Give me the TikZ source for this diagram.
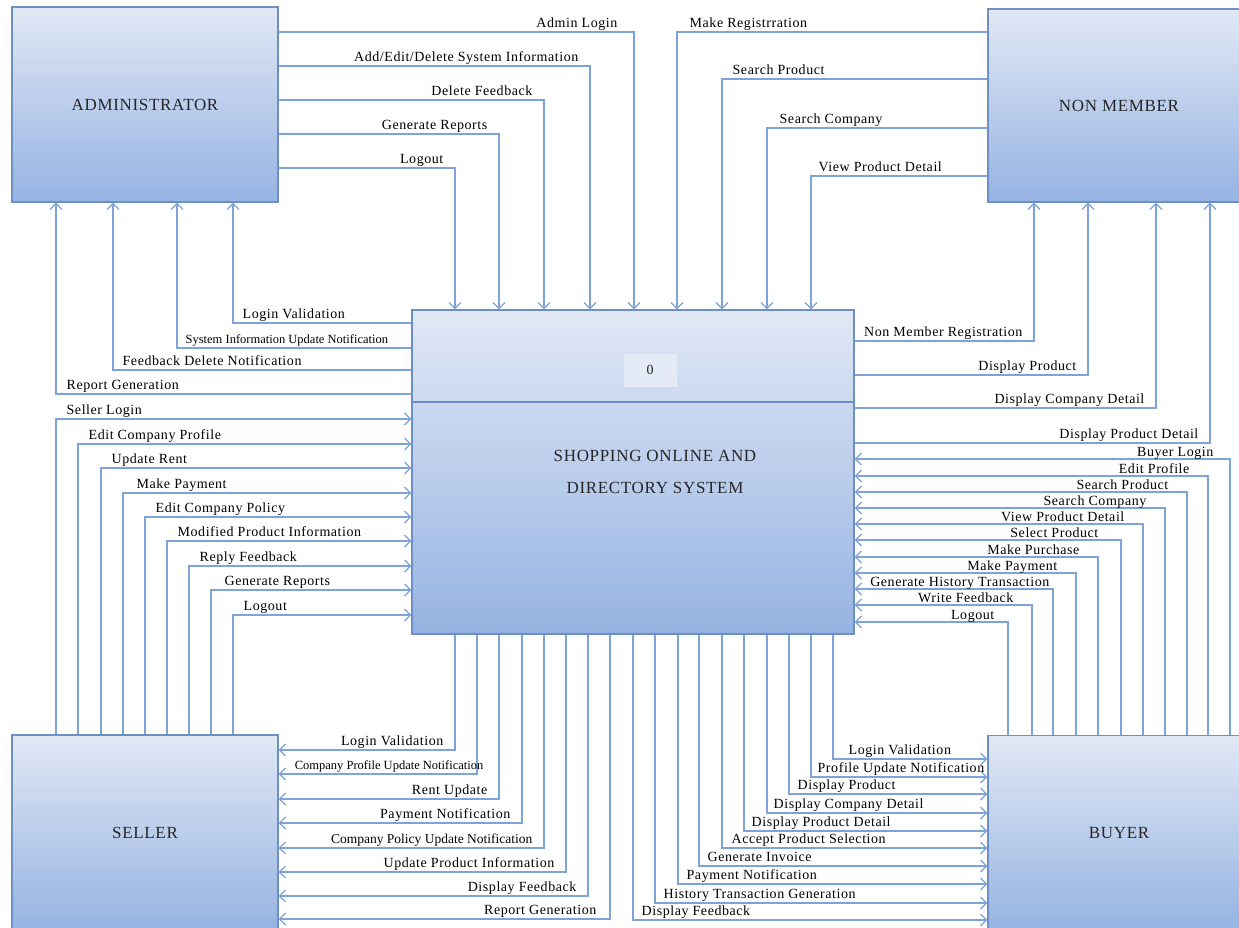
\documentclass[tikz,border=0pt]{standalone}
\usepackage{fontspec}
\setmainfont{Liberation Serif}[LetterSpace=4]
\newfontfamily\tightfont{Liberation Serif}
\usepackage{tikz}
\usetikzlibrary{arrows.meta}
\definecolor{boxtop}{HTML}{E1E8F5}
\definecolor{boxbot}{HTML}{95B3E2}
\definecolor{boxline}{HTML}{6E8FC4}
\definecolor{flowblue}{HTML}{7EA3D9}
\definecolor{numfill}{HTML}{E4EAF6}
\definecolor{inkgrey}{HTML}{262626}
\begin{document}
\begin{tikzpicture}[x=1pt,y=-1pt,%
		  entity/.style={draw=boxline, line width=1.2pt, top color=boxtop, bottom color=boxbot,
		    minimum width=266pt, minimum height=195pt, inner sep=0pt, text=inkgrey,
		    font=\fontsize{17}{19}\selectfont},
		  procbox/.style={draw=boxline, line width=1.2pt, top color=boxtop, bottom color=boxbot,
		    minimum width=442pt, minimum height=324pt, inner sep=0pt},
		  numbox/.style={fill=numfill, minimum width=53pt, minimum height=33pt, text=inkgrey,
		    font=\fontsize{14}{16}\selectfont},
		  flow/.style={draw=flowblue, line width=1.3pt, -{Straight Barb[length=6pt,width=12pt]}},
		  lbl/.style={font=\fontsize{14}{16}\selectfont, inner sep=0pt, text=black, pos=.5},
		  tightlbl/.style={font=\tightfont\fontsize{12.5}{14}\selectfont},
		  lblL/.style={lbl, anchor=base east, xshift=-11pt, yshift=4.5pt},
		  lblR/.style={lbl, anchor=base west, xshift=10pt, yshift=4.5pt},
		  lblB/.style={lbl, anchor=base east, xshift=-18pt, yshift=3pt}]
\useasboundingbox (0,0) rectangle (1239,928);
\node (admin) [entity] at (145,104.5) {ADMINISTRATOR};
\node (nonmem) [entity, minimum width=262pt, minimum height=193pt] at (1119,105.5) {NON MEMBER};
\node (seller) [entity] at (145,832.5) {SELLER};
\node (buyer) [entity, minimum width=262pt] at (1119,833) {BUYER};
\node (proc) [procbox] at (633,472) {};
\draw[boxline, line width=1.2pt] (proc.west |- 0,402) -- (proc.east |- 0,402);
\node (num) [numbox] at (650,370) {0};
\node (ptext) [align=center, text=inkgrey, font=\fontsize{17}{32}\selectfont] at (655,472)
  {SHOPPING ONLINE AND\\DIRECTORY SYSTEM};

\draw[flow] (admin.east |- 0,32) -| node (la1) [lblL, xshift=-5pt] {Admin Login} (634,0 |- proc.north);
\draw[flow] (admin.east |- 0,66) -| node (la2) [lblL] {Add/Edit/Delete System Information} (590,0 |- proc.north);
\draw[flow] (admin.east |- 0,100) -| node (la3) [lblL] {Delete Feedback} (544,0 |- proc.north);
\draw[flow] (admin.east |- 0,134) -| node (la4) [lblL] {Generate Reports} (499,0 |- proc.north);
\draw[flow] (admin.east |- 0,168) -| node (la5) [lblL] {Logout} (455,0 |- proc.north);

\draw[flow] (proc.west |- 0,323) -| node (lb1) [lblR, xshift=-1pt] {Login Validation} (233,0 |- admin.south);
\draw[flow] (proc.west |- 0,348) -| node (lb2) [lblR, tightlbl, xshift=-2pt] {System Information Update Notification} (177,0 |- admin.south);
\draw[flow] (proc.west |- 0,370) -| node (lb3) [lblR, xshift=-1pt] {Feedback Delete Notification} (113,0 |- admin.south);
\draw[flow] (proc.west |- 0,394) -| node (lb4) [lblR] {Report Generation} (56,0 |- admin.south);

\draw[flow] (nonmem.west |- 0,32) -| node (ln1) [lblR, xshift=2pt] {Make Registrration} (677,0 |- proc.north);
\draw[flow] (nonmem.west |- 0,79) -| node (ln2) [lblR] {Search Product} (722,0 |- proc.north);
\draw[flow] (nonmem.west |- 0,128) -| node (ln3) [lblR, xshift=2pt] {Search Company} (767,0 |- proc.north);
\draw[flow] (nonmem.west |- 0,176) -| node (ln4) [lblR, xshift=-3pt] {View Product Detail} (811,0 |- proc.north);

\draw[flow] (proc.east |- 0,341) -| node (lm1) [lblL] {Non Member Registration} (1034,0 |- nonmem.south);
\draw[flow] (proc.east |- 0,375) -| node (lm2) [lblL] {Display Product} (1088,0 |- nonmem.south);
\draw[flow] (proc.east |- 0,408) -| node (lm3) [lblL] {Display Company Detail} (1156,0 |- nonmem.south);
\draw[flow] (proc.east |- 0,443) -| node (lm4) [lblL] {Display Product Detail} (1210,0 |- nonmem.south);

\draw[flow] (56,0 |- seller.north) |- node (ls1) [lblR] {Seller Login} (proc.west |- 0,419);
\draw[flow] (78,0 |- seller.north) |- node (ls2) [lblR] {Edit Company Profile} (proc.west |- 0,444);
\draw[flow] (101,0 |- seller.north) |- node (ls3) [lblR] {Update Rent} (proc.west |- 0,468);
\draw[flow] (123,0 |- seller.north) |- node (ls4) [lblR, xshift=3pt] {Make Payment} (proc.west |- 0,493);
\draw[flow] (145,0 |- seller.north) |- node (ls5) [lblR] {Edit Company Policy} (proc.west |- 0,517);
\draw[flow] (167,0 |- seller.north) |- node (ls6) [lblR] {Modified Product Information} (proc.west |- 0,541);
\draw[flow] (189,0 |- seller.north) |- node (ls7) [lblR] {Reply Feedback} (proc.west |- 0,566);
\draw[flow] (211,0 |- seller.north) |- node (ls8) [lblR, xshift=3pt] {Generate Reports} (proc.west |- 0,590);
\draw[flow] (233,0 |- seller.north) |- node (ls9) [lblR] {Logout} (proc.west |- 0,615);

\draw[flow] (455,0 |- proc.south) |- node (lt1) [lblL] {Login Validation} (seller.east |- 0,750);
\draw[flow] (477,0 |- proc.south) |- node (lt2) [lblL, tightlbl, xshift=18pt] {Company Profile Update Notification} (seller.east |- 0,774);
\draw[flow] (499,0 |- proc.south) |- node (lt3) [lblL] {Rent Update} (seller.east |- 0,799);
\draw[flow] (522,0 |- proc.south) |- node (lt4) [lblL] {Payment Notification} (seller.east |- 0,823);
\draw[flow] (544,0 |- proc.south) |- node (lt5) [lblL, font=\tightfont\fontsize{13.5}{15}\selectfont] {Company Policy Update Notification} (seller.east |- 0,848);
\draw[flow] (566,0 |- proc.south) |- node (lt6) [lblL] {Update Product Information} (seller.east |- 0,872);
\draw[flow] (588,0 |- proc.south) |- node (lt7) [lblL] {Display Feedback} (seller.east |- 0,896);
\draw[flow] (610,0 |- proc.south) |- node (lt8) [lblL, xshift=-2pt] {Report Generation} (seller.east |- 0,919);

\draw[flow] (833,0 |- proc.south) |- node (lu1) [lblR, xshift=5pt] {Login Validation} (buyer.west |- 0,759);
\draw[flow] (811,0 |- proc.south) |- node (lu2) [lblR, xshift=-4pt] {Profile Update Notification} (buyer.west |- 0,777);
\draw[flow] (789,0 |- proc.south) |- node (lu3) [lblR, xshift=-2pt] {Display Product} (buyer.west |- 0,794);
\draw[flow] (767,0 |- proc.south) |- node (lu4) [lblR, xshift=-4pt] {Display Company Detail} (buyer.west |- 0,813);
\draw[flow] (744,0 |- proc.south) |- node (lu5) [lblR, xshift=-3pt] {Display Product Detail} (buyer.west |- 0,831);
\draw[flow] (722,0 |- proc.south) |- node (lu6) [lblR, xshift=-1pt] {Accept Product Selection} (buyer.west |- 0,848);
\draw[flow] (699,0 |- proc.south) |- node (lu7) [lblR, xshift=-2pt] {Generate Invoice} (buyer.west |- 0,866);
\draw[flow] (678,0 |- proc.south) |- node (lu8) [lblR, xshift=-2pt] {Payment Notification} (buyer.west |- 0,884);
\draw[flow] (655,0 |- proc.south) |- node (lu9) [lblR, xshift=-2pt] {History Transaction Generation} (buyer.west |- 0,903);
\draw[flow] (633,0 |- proc.south) |- node (lu10) [lblR, xshift=-2pt] {Display Feedback} (buyer.west |- 0,920);

\draw[flow] (1230,0 |- buyer.north) |- node (lv1) [lblB, xshift=2pt] {Buyer Login} (proc.east |- 0,459);
\draw[flow] (1208,0 |- buyer.north) |- node (lv2) [lblB] {Edit Profile} (proc.east |- 0,476);
\draw[flow] (1187,0 |- buyer.north) |- node (lv3) [lblB] {Search Product} (proc.east |- 0,492);
\draw[flow] (1165,0 |- buyer.north) |- node (lv4) [lblB] {Search Company} (proc.east |- 0,508);
\draw[flow] (1143,0 |- buyer.north) |- node (lv5) [lblB] {View Product Detail} (proc.east |- 0,524);
\draw[flow] (1121,0 |- buyer.north) |- node (lv6) [lblB, xshift=-4pt] {Select Product} (proc.east |- 0,540);
\draw[flow] (1098,0 |- buyer.north) |- node (lv7) [lblB] {Make Purchase} (proc.east |- 0,557);
\draw[flow] (1076,0 |- buyer.north) |- node (lv8) [lblB] {Make Payment} (proc.east |- 0,573);
\draw[flow] (1053,0 |- buyer.north) |- node (lv9) [lblB, xshift=15pt] {Generate History Transaction} (proc.east |- 0,589);
\draw[flow] (1032,0 |- buyer.north) |- node (lv10) [lblB] {Write Feedback} (proc.east |- 0,605);
\draw[flow] (1008,0 |- buyer.north) |- node (lv11) [lblB, xshift=5pt] {Logout} (proc.east |- 0,622);
\end{tikzpicture}
\end{document}
